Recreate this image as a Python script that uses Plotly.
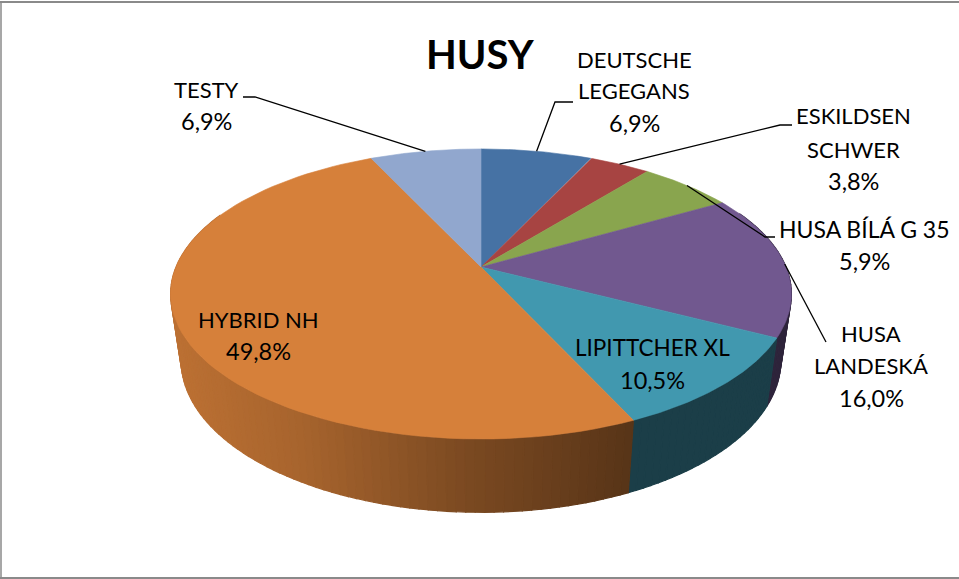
import numpy as np
import plotly.graph_objects as go

# ---- data ----
TITLE = "HUSY"
categories = ["DEUTSCHE LEGEGANS", "ESKILDSEN SCHWER", "HUSA BÍLÁ G 35", "HUSA LANDESKÁ",
              "LIPITTCHER XL", "HYBRID NH", "TESTY"]
label_lines = [["DEUTSCHE", "LEGEGANS"], ["ESKILDSEN", "SCHWER"], ["HUSA BÍLÁ G 35"], ["HUSA", "LANDESKÁ"],
               ["LIPITTCHER XL"], ["HYBRID NH"], ["TESTY"]]
values = [6.9, 3.8, 5.9, 16.0, 10.5, 49.8, 6.9]
colors = ["#4672A4", "#A74442", "#89A54E", "#71588F", "#4198AF", "#D6803A", "#91A7CE"]

# ---- styling / layout ----
W, H = 959, 579
CX = 481.0
KP = 0.186                 # perspective factor
TOP = dict(a=305.0, b=140.0, ay=267.0)
BOT = dict(a=305.0 * 300 / 310.5, b=140.0 * 152 / 145, ay=332.0)
FONT = "Lato, Carlito, Calibri, sans-serif"
FS = 22
FS_PCT = 23.5
label_sizes = [22, 22, 23, 22, 22.5, 22, 22]
label_pos = [(634, [59, 90, 123]), (853, [115, 149, 181]), (864, [229, 261]), (871, [333, 365, 398]),
             (652, [347, 380]), (258, [319, 351]), (206, [89, 121])]
leaders = {0: [(573, 102), (555, 102)], 1: [(792, 125), (780, 125)], 2: [(775, 237), (765, 237)],
           3: [(826, 342), (826, 342)], 6: [(243, 97), (255, 97)]}


def project(theta, rim):
    """Clockwise angle from 12 o'clock -> page pixel."""
    u, v = np.sin(theta), np.cos(theta)
    d = 1 + KP * v
    return CX + rim["a"] * u / d, rim["ay"] - rim["b"] * v / d


def shade(hex_color, x):
    f = float(np.interp(x, [170, 300, 470, 632], [0.88, 0.78, 0.57, 0.41]))
    rgb = [int(hex_color[i:i + 2], 16) for i in (1, 3, 5)]
    return "rgb(%d,%d,%d)" % tuple(round(c * f) for c in rgb)


total = sum(values)
edges = np.concatenate([[0], np.cumsum(values)]) / total * 2 * np.pi

fig = go.Figure()


def poly(xs, ys, color, lw=0.6):
    fig.add_trace(go.Scatter(x=xs, y=ys, mode="lines", fill="toself", fillcolor=color,
                             line=dict(color=color, width=lw), hoverinfo="skip", showlegend=False))


# side wall, back to front
quads = []
step = np.radians(1.5)
for i, col in enumerate(colors):
    n = max(1, int(np.ceil((edges[i + 1] - edges[i]) / step)))
    th = np.linspace(edges[i], edges[i + 1], n + 1)
    for t0, t1 in zip(th[:-1], th[1:]):
        if np.cos((t0 + t1) / 2) < 0.4:
            quads.append((np.cos((t0 + t1) / 2), t0, t1, col))
for _, t0, t1, col in sorted(quads, key=lambda q: -q[0]):
    x0, y0 = project(t0, TOP)
    x1, y1 = project(t1, TOP)
    x2, y2 = project(t1, BOT)
    x3, y3 = project(t0, BOT)
    poly([x0, x1, x2, x3, x0], [y0, y1, y2, y3, y0], shade(col, (x0 + x1) / 2), lw=1.2)

# top face
for i, col in enumerate(colors):
    th = np.linspace(edges[i], edges[i + 1], 80)
    xs, ys = project(th, TOP)
    poly(np.r_[CX, xs, CX], np.r_[TOP["ay"], ys, TOP["ay"]], col)

# leader lines
for i, pts in leaders.items():
    mid = (edges[i] + edges[i + 1]) / 2
    rx, ry = project(mid, TOP)
    fig.add_trace(go.Scatter(x=[p[0] for p in pts] + [float(rx)], y=[p[1] for p in pts] + [float(ry)],
                             mode="lines", line=dict(color="#000000", width=1.3),
                             hoverinfo="skip", showlegend=False))

# labels
ann = []
for lines, val, (x, ys), size in zip(label_lines, values, label_pos, label_sizes):
    texts = lines + [f"{val:.1f}%".replace(".", ",")]
    sizes = [size] * len(lines) + [FS_PCT]
    for t, y, s in zip(texts, ys, sizes):
        ann.append(dict(x=x, y=y, xref="x", yref="y", text=t, showarrow=False, xanchor="center",
                        yanchor="middle", font=dict(family=FONT, size=s, color="#000000")))
ann.append(dict(x=480, y=54, xref="x", yref="y", text="<b>%s</b>" % TITLE, showarrow=False,
                xanchor="center", yanchor="middle", font=dict(family=FONT, size=40, color="#000000")))

border = "#8A8A8A"
shapes = [dict(type="line", xref="x", yref="y", x0=0, x1=W, y0=2, y1=2, line=dict(color=border, width=2)),
          dict(type="line", xref="x", yref="y", x0=1, x1=1, y0=2, y1=H, line=dict(color=border, width=1.5)),
          dict(type="line", xref="x", yref="y", x0=0, x1=W, y0=578, y1=578, line=dict(color=border, width=2))]

fig.update_layout(width=W, height=H, margin=dict(l=0, r=0, t=0, b=0), paper_bgcolor="white",
                  plot_bgcolor="white", annotations=ann, shapes=shapes, showlegend=False,
                  xaxis=dict(range=[0, W], visible=False, fixedrange=True),
                  yaxis=dict(range=[H, 0], visible=False, fixedrange=True))
fig.write_html("out.html", config=dict(displayModeBar=False),
               post_script="document.body.style.margin='0';document.body.style.overflow='hidden';")
